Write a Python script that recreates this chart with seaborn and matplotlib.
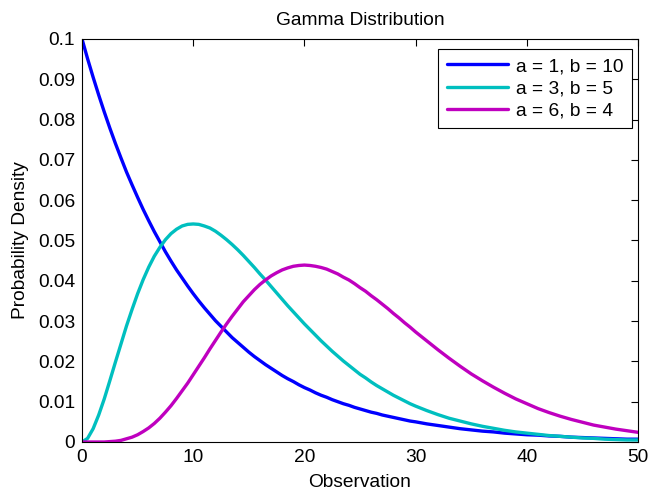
import seaborn as sns
import pandas as pd
import matplotlib.pyplot as plt

# Observation grid (finer where the curves bend) and densities
observation = [i / 2 for i in range(0, 61)] + list(range(31, 51))

density_a1_b10 = [0.1000, 0.0951, 0.0905, 0.0861, 0.0819, 0.0779, 0.0741, 0.0705, 0.0670, 0.0638,
                  0.0607, 0.0577, 0.0549, 0.0522, 0.0497, 0.0472, 0.0449, 0.0427, 0.0407, 0.0387,
                  0.0368, 0.0350, 0.0333, 0.0317, 0.0301, 0.0287, 0.0273, 0.0259, 0.0247, 0.0235,
                  0.0223, 0.0212, 0.0202, 0.0192, 0.0183, 0.0174, 0.0165, 0.0157, 0.0150, 0.0142,
                  0.0135, 0.0129, 0.0122, 0.0116, 0.0111, 0.0105, 0.0100, 0.0095, 0.0091, 0.0086,
                  0.0082, 0.0078, 0.0074, 0.0071, 0.0067, 0.0064, 0.0061, 0.0058, 0.0055, 0.0052,
                  0.0050,
                  0.0045, 0.0041, 0.0037, 0.0033, 0.0030, 0.0027, 0.0025, 0.0022, 0.0020,
                  0.0018, 0.0017, 0.0015, 0.0014, 0.0012, 0.0011, 0.0010, 0.0009, 0.0008, 0.0007,
                  0.0007]

density_a3_b5 = [0.0000, 0.0009, 0.0033, 0.0067, 0.0107, 0.0152, 0.0198, 0.0243, 0.0288, 0.0329,
                 0.0368, 0.0403, 0.0434, 0.0461, 0.0483, 0.0502, 0.0517, 0.0528, 0.0536, 0.0540,
                 0.0541, 0.0540, 0.0536, 0.0531, 0.0523, 0.0513, 0.0502, 0.0490, 0.0477, 0.0463,
                 0.0448, 0.0433, 0.0417, 0.0402, 0.0386, 0.0370, 0.0354, 0.0338, 0.0323, 0.0308,
                 0.0293, 0.0279, 0.0265, 0.0251, 0.0238, 0.0225, 0.0213, 0.0201, 0.0190, 0.0179,
                 0.0168, 0.0159, 0.0149, 0.0140, 0.0132, 0.0124, 0.0116, 0.0109, 0.0102, 0.0095,
                 0.0089,
                 0.0078, 0.0068, 0.0059, 0.0052, 0.0045, 0.0039, 0.0034, 0.0029, 0.0025,
                 0.0022, 0.0019, 0.0016, 0.0014, 0.0012, 0.0010, 0.0009, 0.0007, 0.0006, 0.0005,
                 0.0005]

density_a6_b4 = [0.0000, 0.0000, 0.0000, 0.0000, 0.0000, 0.0001, 0.0002, 0.0004, 0.0008, 0.0012,
                 0.0018, 0.0026, 0.0035, 0.0046, 0.0059, 0.0074, 0.0090, 0.0108, 0.0127, 0.0146,
                 0.0167, 0.0188, 0.0209, 0.0231, 0.0252, 0.0273, 0.0293, 0.0312, 0.0330, 0.0348,
                 0.0363, 0.0378, 0.0391, 0.0402, 0.0412, 0.0420, 0.0427, 0.0432, 0.0436, 0.0438,
                 0.0439, 0.0438, 0.0436, 0.0433, 0.0429, 0.0423, 0.0417, 0.0409, 0.0402, 0.0393,
                 0.0383, 0.0374, 0.0363, 0.0353, 0.0342, 0.0331, 0.0319, 0.0308, 0.0296, 0.0285,
                 0.0273,
                 0.0251, 0.0229, 0.0208, 0.0188, 0.0169, 0.0152, 0.0136, 0.0121, 0.0107,
                 0.0095, 0.0083, 0.0073, 0.0064, 0.0056, 0.0049, 0.0042, 0.0037, 0.0032, 0.0028,
                 0.0024]

labels = ['a = 1, b = 10', 'a = 3, b = 5', 'a = 6, b = 4']
colors = ['#0000FF', '#00BFBF', '#BF00BF']

# long-form table for seaborn
df = pd.concat([
    pd.DataFrame({'Observation': observation, 'Density': d, 'Params': lab})
    for d, lab in zip([density_a1_b10, density_a3_b5, density_a6_b4], labels)
])

sns.set_style('white', {'text.color': 'black', 'axes.labelcolor': 'black',
                        'xtick.color': 'black', 'ytick.color': 'black'})
plt.rcParams['font.family'] = ['Liberation Sans', 'DejaVu Sans']
fs = 13.8

fig = plt.figure(figsize=(6.52, 4.91), dpi=100)
ax = fig.add_axes([0.1258, 0.0998, 0.8528, 0.8208])

sns.lineplot(data=df, x='Observation', y='Density', hue='Params',
             palette=dict(zip(labels, colors)), linewidth=2.4, ax=ax)

ax.set_xlim(0, 50)
ax.set_ylim(0, 0.1)
ax.set_xticks([0, 10, 20, 30, 40, 50])
ax.set_yticks([i / 100 for i in range(11)])
ax.set_yticklabels(['0', '0.01', '0.02', '0.03', '0.04', '0.05',
                    '0.06', '0.07', '0.08', '0.09', '0.1'])
ax.tick_params(direction='in', length=5, width=0.8, top=True, right=True,
               labelsize=fs, colors='black', pad=5)
for sp in ax.spines.values():
    sp.set_visible(True)
    sp.set_color('black')
    sp.set_linewidth(0.8)

ax.set_title('Gamma Distribution', fontsize=fs, pad=10, color='black')
ax.set_xlabel('Observation', fontsize=fs, labelpad=6, color='black')
ax.set_ylabel('Probability Density', fontsize=fs, labelpad=6, color='black')

leg = ax.legend(loc='upper right', bbox_to_anchor=(0.989, 0.975), borderaxespad=0,
                fontsize=fs, frameon=True, fancybox=False, edgecolor='black',
                framealpha=1, handlelength=3.2, labelspacing=0.25, borderpad=0.45,
                handletextpad=0.4)
leg.get_frame().set_linewidth(0.8)
for t in leg.get_texts():
    t.set_color('black')

fig.savefig('out.png', dpi=100)
